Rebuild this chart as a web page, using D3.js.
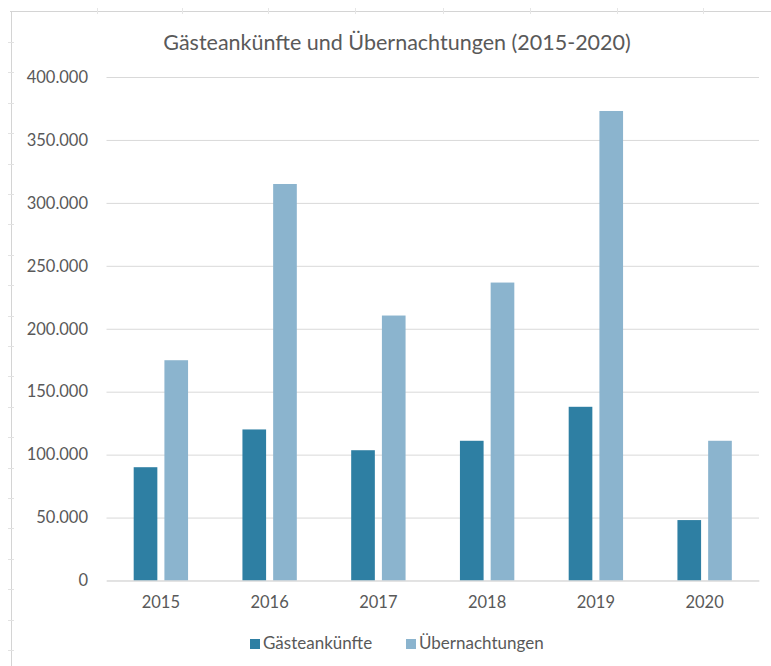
<!DOCTYPE html>
<html><head><meta charset="utf-8">
<script src="https://cdn.jsdelivr.net/npm/d3@7"></script>
<style>
html,body{margin:0;padding:0;background:#fff;}
svg{display:block;}
</style></head>
<body>
<svg id="chart" width="771" height="666"></svg>
<script>
const title = "Gästeankünfte und Übernachtungen (2015-2020)";
const years = ["2015","2016","2017","2018","2019","2020"];
const seriesNames = ["Gästeankünfte","Übernachtungen"];
const gaesteankuenfte = [90000,120000,103500,111000,138000,48000];
const uebernachtungen = [175000,315000,210500,236700,373000,111000];
const yTicks = [0,50000,100000,150000,200000,250000,300000,350000,400000];
const colors = ["#2E7FA3","#8BB4CE"];

const svg = d3.select("#chart");
const font = "Lato, 'Open Sans', sans-serif";

// sheet-like border
const border = svg.append("g").attr("stroke","#d4d4d4").attr("fill","none");
border.append("line").attr("x1",10).attr("x2",771).attr("y1",11.5).attr("y2",11.5);
border.append("line").attr("x1",11.5).attr("x2",11.5).attr("y1",11).attr("y2",666);
d3.range(42,666,30.4).forEach(y=>{
  border.append("line").attr("x1",8).attr("x2",14).attr("y1",Math.round(y)+0.5).attr("y2",Math.round(y)+0.5).attr("stroke","#e2e2e2");
});
[97,182,268,355,443,530,617,703].forEach(x=>{
  border.append("line").attr("x1",x+0.5).attr("x2",x+0.5).attr("y1",8).attr("y2",14).attr("stroke","#e6e6e6");
});

const plot = {left:106.5, right:759, top:77, bottom:580.5};

const y = d3.scaleLinear().domain([0,400000]).range([plot.bottom, plot.top]);
const x0 = d3.scaleBand().domain(years).range([plot.left, plot.right]).paddingInner(0.5).paddingOuter(0.25);
const x1 = d3.scaleBand().domain(seriesNames).range([0, x0.bandwidth()]).paddingInner(0.23).paddingOuter(0);

// gridlines
const yAxis = d3.axisLeft(y).tickValues(yTicks).tickSize(-(plot.right-plot.left))
  .tickFormat(d => d3.format(",")(d).replace(/,/g,"."));
const ga = svg.append("g").attr("transform",`translate(${plot.left},0)`).call(yAxis);
ga.select(".domain").remove();
ga.selectAll(".tick line").attr("stroke","#d9d9d9").attr("stroke-width",1);
ga.selectAll(".tick text").attr("x",-18.5).attr("fill","#595959")
  .style("font-family",font).style("font-size","16.5px");

// bars
const data = years.map((yr,i)=>({year:yr, values:[gaesteankuenfte[i], uebernachtungen[i]]}));
const groups = svg.append("g").selectAll("g").data(data).join("g")
  .attr("transform", d=>`translate(${x0(d.year)},0)`);
groups.selectAll("rect").data(d=>d.values.map((v,j)=>({name:seriesNames[j], v, j})))
  .join("rect")
  .attr("x", d=>x1(d.name))
  .attr("width", x1.bandwidth())
  .attr("y", d=>y(d.v))
  .attr("height", d=>y(0)-y(d.v))
  .attr("fill", d=>colors[d.j]);

// x axis
const xAxis = d3.axisBottom(x0).tickSize(0).tickPadding(16);
const gx = svg.append("g").attr("transform",`translate(0,${plot.bottom})`).call(xAxis);
gx.select(".domain").attr("stroke","#d9d9d9");
gx.selectAll(".tick text").attr("fill","#595959")
  .style("font-family",font).style("font-size","16.5px");

// title
svg.append("text").attr("x",397).attr("y",50).attr("text-anchor","middle")
  .attr("fill","#595959").style("font-family",font).style("font-size","21.5px")
  .text(title);

// legend
const legend = svg.append("g");
const legItems = [{name:seriesNames[0], x:250},{name:seriesNames[1], x:406}];
legItems.forEach((it,i)=>{
  legend.append("rect").attr("x",it.x).attr("y",639).attr("width",10).attr("height",10).attr("fill",colors[i]);
  legend.append("text").attr("x",it.x+13).attr("y",649).attr("fill","#595959")
    .style("font-family",font).style("font-size","17px").text(it.name);
});
</script>
</body></html>
